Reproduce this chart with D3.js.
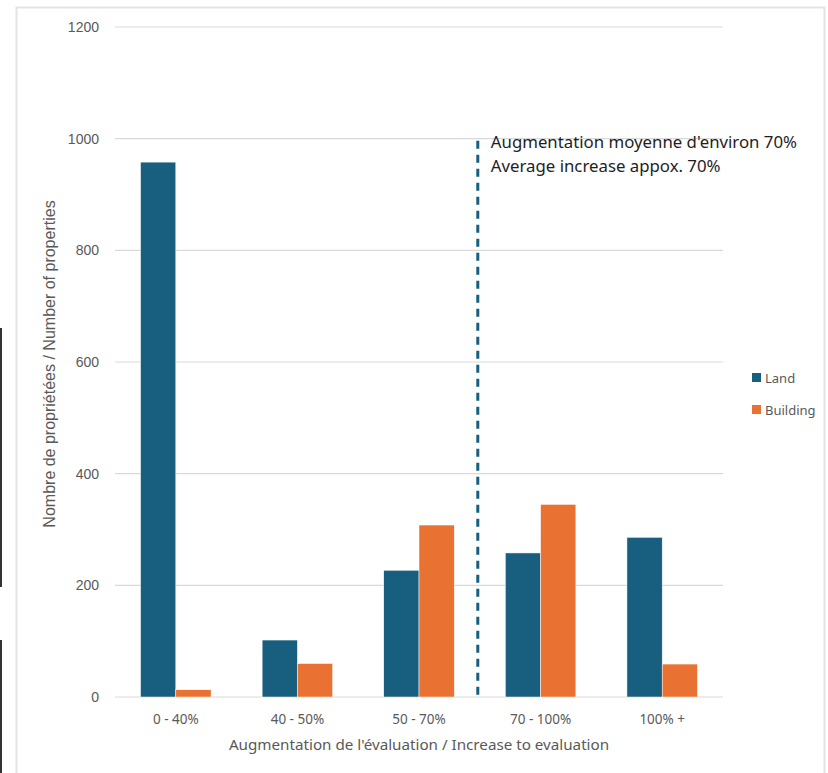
<!DOCTYPE html>
<html>
<head>
<meta charset="utf-8">
<script src="https://cdn.jsdelivr.net/npm/d3@7"></script>
<style>
  body { margin: 0; background: #fff; }
  svg { display: block; }
</style>
</head>
<body>
<div id="chart"></div>
<script>
const categories = ['0 - 40%', '40 - 50%', '50 - 70%', '70 - 100%', '100% +'];
const series = ['Land', 'Building'];
const landValues = [958, 102, 227, 258, 286];
const buildingValues = [13, 60, 308, 345, 59];
const yTicks = [0, 200, 400, 600, 800, 1000, 1200];
const annotationLines = ["Augmentation moyenne d'environ 70%", 'Average increase appox. 70%'];

const colors = { Land: '#175e7f', Building: '#e97132' };

const w = 828;
const h = 773;
const m = { top: 27, right: 105, bottom: 76, left: 115 };

const rows = categories.map((c, i) => ({ cat: c, Land: landValues[i], Building: buildingValues[i] }));

const svg = d3.select('#chart')
  .append('svg')
    .attr('width', w)
    .attr('height', h);

// page frame + stray edge lines from the source screenshot
svg.append('rect')
    .attr('x', 16.5).attr('y', 7.5)
    .attr('width', w - 20).attr('height', h - 4)
    .attr('fill', 'none')
    .attr('stroke', '#e3e3e3')
    .attr('stroke-width', 2);
svg.append('line')
    .attr('x1', 1).attr('x2', 1).attr('y1', 328).attr('y2', 587)
    .attr('stroke', '#333').attr('stroke-width', 2);
svg.append('line')
    .attr('x1', 1).attr('x2', 1).attr('y1', 640).attr('y2', h)
    .attr('stroke', '#333').attr('stroke-width', 2);

const x0 = d3.scaleBand()
  .domain(categories)
  .range([m.left, w - m.right])
  .paddingInner(0.42)
  .paddingOuter(0.21);

const x1 = d3.scaleBand()
  .domain(series)
  .range([0, x0.bandwidth()]);

const y = d3.scaleLinear()
  .domain([0, 1200])
  .range([h - m.bottom, m.top]);

// gridlines
svg.append('g')
  .selectAll('line')
  .data(yTicks)
  .enter()
  .append('line')
    .attr('x1', m.left)
    .attr('x2', w - m.right)
    .attr('y1', d => y(d))
    .attr('y2', d => y(d))
    .attr('stroke', '#d9d9d9')
    .attr('stroke-width', 1.2);

// y tick labels
svg.append('g')
  .selectAll('text')
  .data(yTicks)
  .enter()
  .append('text')
    .attr('x', m.left - 16)
    .attr('y', d => y(d))
    .attr('dy', '0.35em')
    .attr('text-anchor', 'end')
    .attr('font-family', 'Liberation Sans, Arial, sans-serif')
    .attr('font-size', 14)
    .attr('fill', '#595959')
    .text(d => d);

// bars
const groups = svg.append('g')
  .selectAll('g')
  .data(rows)
  .enter()
  .append('g')
    .attr('transform', d => `translate(${x0(d.cat)},0)`);

groups.selectAll('rect')
  .data(d => series.map(s => ({ key: s, value: d[s] })))
  .enter()
  .append('rect')
    .attr('x', d => x1(d.key))
    .attr('y', d => y(d.value))
    .attr('width', x1.bandwidth())
    .attr('height', d => y(0) - y(d.value))
    .attr('fill', d => colors[d.key])
    .attr('stroke', '#fff')
    .attr('stroke-width', 0.5);

// x tick labels
svg.append('g')
  .selectAll('text')
  .data(categories)
  .enter()
  .append('text')
    .attr('x', d => x0(d) + x0.bandwidth() / 2)
    .attr('y', h - m.bottom + 27)
    .attr('text-anchor', 'middle')
    .attr('font-family', 'Noto Sans, sans-serif')
    .attr('font-size', 13.5)
    .attr('fill', '#595959')
    .text(d => d);

// average marker between 50-70% and 70-100%
const gap = x0.step() * x0.paddingInner();
const avgX = x0(categories[3]) - gap / 2 - 2;
svg.append('line')
    .attr('x1', avgX).attr('x2', avgX)
    .attr('y1', y(1000) + 2)
    .attr('y2', y(0))
    .attr('stroke', colors.Land)
    .attr('stroke-width', 3)
    .attr('stroke-dasharray', '8,6');

svg.append('g')
  .selectAll('text')
  .data(annotationLines)
  .enter()
  .append('text')
    .attr('x', avgX + 13)
    .attr('y', (d, i) => y(1000) + 9 + i * 24)
    .attr('font-family', 'Noto Sans, sans-serif')
    .attr('font-size', 16.8)
    .attr('fill', '#1e1e1e')
    .text(d => d);

// axis titles
svg.append('text')
    .attr('x', (m.left + w - m.right) / 2)
    .attr('y', h - 23)
    .attr('text-anchor', 'middle')
    .attr('font-family', 'Noto Sans, sans-serif')
    .attr('font-size', 15.2)
    .attr('fill', '#595959')
    .text("Augmentation de l'évaluation / Increase to evaluation");

svg.append('text')
    .attr('transform', `translate(55, ${(m.top + h - m.bottom) / 2 + 2}) rotate(-90)`)
    .attr('text-anchor', 'middle')
    .attr('font-family', 'Liberation Sans, Arial, sans-serif')
    .attr('font-size', 16)
    .attr('fill', '#595959')
    .text('Nombre de propriétées / Number of properties');

// legend
const legend = svg.append('g')
  .selectAll('g')
  .data(series)
  .enter()
  .append('g')
    .attr('transform', (d, i) => `translate(752, ${373 + i * 32})`);

legend.append('rect')
    .attr('width', 9)
    .attr('height', 9)
    .attr('fill', d => colors[d]);

legend.append('text')
    .attr('x', 13)
    .attr('y', 5)
    .attr('dy', '0.35em')
    .attr('font-family', 'Noto Sans, sans-serif')
    .attr('font-size', 13)
    .attr('fill', '#595959')
    .text(d => d);
</script>
</body>
</html>
